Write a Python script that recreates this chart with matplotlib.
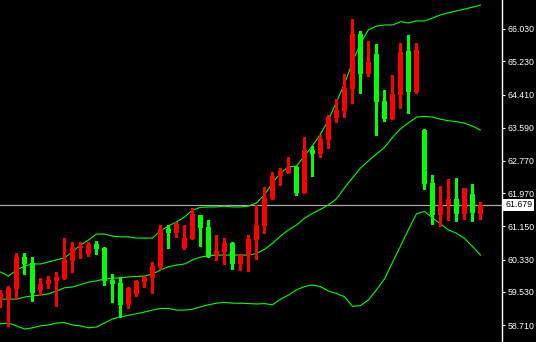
import matplotlib
matplotlib.use("Agg")
import matplotlib.pyplot as plt
import numpy as np

plt.rcParams['font.family'] = ['Liberation Sans', 'DejaVu Sans']

# candles: red = up bar, green = down bar
opens = [59.33, 59.35, 59.60, 60.39, 60.24, 59.58, 59.72, 59.80, 59.85, 60.29,
         60.61, 60.47, 60.71, 60.61, 59.82, 59.75, 59.23, 59.48, 59.77, 59.87,
         60.15, 61.08, 60.99, 60.61, 60.84, 61.43, 61.13, 60.44, 60.52, 60.74,
         60.22, 60.44, 60.81, 61.16, 61.83, 62.40, 62.47, 62.62, 61.98, 63.04,
         62.94, 63.29, 63.83, 64.00, 64.55, 65.91, 64.92, 65.41, 64.25, 63.80,
         64.40, 65.49, 64.47, 63.53, 62.22, 61.43, 61.68, 61.83, 61.46, 61.95,
         61.46]
highs = [59.58, 59.68, 60.49, 60.49, 60.39, 59.87, 59.92, 60.02, 60.86, 60.76,
         60.76, 60.76, 60.79, 60.64, 59.97, 59.90, 59.65, 59.82, 59.92, 60.27,
         61.18, 61.18, 61.26, 61.18, 61.60, 61.43, 61.31, 60.94, 60.86, 60.76,
         60.47, 60.94, 61.68, 62.12, 62.49, 62.59, 62.87, 62.64, 63.36, 63.14,
         63.41, 63.90, 64.30, 64.92, 66.28, 65.98, 65.73, 65.66, 64.52, 64.89,
         65.68, 65.88, 65.68, 63.56, 62.42, 62.15, 62.32, 62.35, 62.10, 62.20,
         61.75]
lows = [59.16, 58.69, 59.35, 59.97, 59.30, 59.45, 59.63, 59.18, 59.85, 60.02,
        60.37, 60.42, 60.47, 59.70, 59.28, 58.91, 59.13, 59.43, 59.65, 59.50,
        60.10, 60.61, 60.89, 60.59, 60.84, 60.66, 60.39, 60.32, 60.22, 60.10,
        60.07, 60.05, 60.34, 60.99, 61.83, 62.17, 62.47, 61.93, 61.98, 62.40,
        62.87, 63.09, 63.73, 63.85, 64.20, 64.45, 64.87, 63.41, 63.76, 63.80,
        64.08, 63.95, 64.45, 62.07, 61.21, 61.16, 61.31, 61.28, 61.33, 61.28,
        61.33]
closes = [59.50, 59.63, 60.39, 60.22, 59.50, 59.72, 59.82, 59.90, 60.32, 60.64,
          60.66, 60.71, 60.59, 59.80, 59.72, 59.21, 59.63, 59.80, 59.90, 60.17,
          61.08, 60.99, 61.21, 60.86, 61.46, 61.11, 60.39, 60.54, 60.74, 60.22,
          60.44, 60.84, 61.18, 61.85, 62.40, 62.52, 62.62, 61.98, 63.04, 62.94,
          63.31, 63.85, 64.03, 64.57, 65.91, 64.92, 65.21, 64.23, 63.80, 64.42,
          65.46, 64.47, 65.51, 62.20, 61.43, 61.68, 61.83, 61.46, 62.10, 61.48,
          61.679]

# bollinger bands
bb_upper = [60.02, 59.92, 60.07, 60.17, 60.22, 60.22, 60.27, 60.32, 60.37, 60.52,
            60.69, 60.81, 60.96, 60.96, 60.91, 60.89, 60.89, 60.86, 60.86, 60.86,
            61.04, 61.16, 61.26, 61.38, 61.55, 61.62, 61.63, 61.63, 61.65, 61.63,
            61.63, 61.65, 61.73, 61.93, 62.22, 62.47, 62.62, 62.64, 62.89, 63.14,
            63.43, 63.78, 64.23, 64.67, 65.21, 65.68, 66.01, 66.10, 66.13, 66.13,
            66.21, 66.18, 66.23, 66.23, 66.30, 66.38, 66.43, 66.48, 66.52, 66.57,
            66.62]
bb_middle = [59.35, 59.35, 59.35, 59.40, 59.43, 59.45, 59.48, 59.55, 59.63, 59.65,
             59.71, 59.77, 59.80, 59.85, 59.87, 59.87, 59.90, 59.91, 59.92, 59.97,
             60.07, 60.15, 60.19, 60.22, 60.32, 60.39, 60.42, 60.44, 60.44, 60.44,
             60.44, 60.44, 60.48, 60.58, 60.73, 60.91, 61.06, 61.18, 61.35, 61.47,
             61.57, 61.68, 61.83, 62.10, 62.35, 62.59, 62.77, 62.94, 63.10, 63.35,
             63.56, 63.71, 63.85, 63.87, 63.85, 63.80, 63.76, 63.74, 63.70, 63.63,
             63.53]
bb_lower = [58.74, 58.76, 58.69, 58.61, 58.64, 58.69, 58.71, 58.76, 58.77, 58.71,
            58.69, 58.64, 58.66, 58.76, 58.86, 58.91, 58.95, 58.99, 59.03, 59.08,
            59.12, 59.12, 59.08, 59.08, 59.10, 59.16, 59.21, 59.25, 59.27, 59.25,
            59.25, 59.24, 59.23, 59.24, 59.21, 59.35, 59.45, 59.58, 59.66, 59.70,
            59.66, 59.55, 59.49, 59.41, 59.17, 59.19, 59.33, 59.58, 59.85, 60.26,
            60.66, 61.07, 61.46, 61.52, 61.36, 61.21, 61.06, 60.98, 60.85, 60.65,
            60.44]

price_ticks = [66.030, 65.230, 64.410, 63.590, 62.770, 61.970, 61.150, 60.330, 59.530, 58.710]
last_price = 61.679

UP = '#ff0000'
DOWN = '#00ff00'

fig = plt.figure(figsize=(5.36, 3.42), dpi=100, facecolor='black')
ax = fig.add_axes([0, 0, 502 / 536, 1])
ax.set_facecolor('black')

idx = np.arange(len(opens))
o = np.array(opens)
c = np.array(closes)
colors = [UP if cc >= oo else DOWN for oo, cc in zip(o, c)]

# wicks then bodies
ax.vlines(idx, lows, highs, colors=colors, linewidth=0.9, antialiased=False, zorder=3)
ax.bar(idx, np.abs(c - o), bottom=np.minimum(o, c), width=0.62, color=colors,
       linewidth=0, antialiased=False, zorder=4)

for band in (bb_upper, bb_middle, bb_lower):
    ax.plot(idx, band, color='#00ff00', linewidth=0.8, zorder=2)

# current price line + label
ax.axhline(last_price, color='#a8a8a8', linewidth=0.9, zorder=1)
ax.text(1.006, last_price, '%.3f' % last_price, transform=ax.get_yaxis_transform(),
        ha='left', va='center', color='black', fontsize=6.3,
        bbox=dict(boxstyle='square,pad=0.18', fc='white', ec='none'), clip_on=False)

ax.set_xlim(-0.06, 62.69)
ax.set_ylim(58.290, 66.747)
ax.set_xticks([])
ax.yaxis.tick_right()
ax.set_yticks(price_ticks)
ax.set_yticklabels(['%.3f' % t for t in price_ticks])
ax.tick_params(axis='y', colors='white', length=2, width=0.8, pad=2, labelsize=6.3)
for side in ('top', 'left', 'bottom'):
    ax.spines[side].set_visible(False)
ax.spines['right'].set_color('white')
ax.spines['right'].set_linewidth(1.0)

fig.savefig('out.png', dpi=100, facecolor='black')
